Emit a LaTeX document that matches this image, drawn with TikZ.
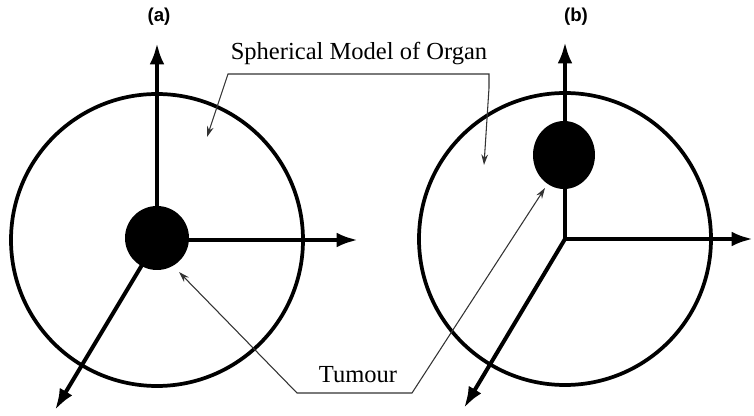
\documentclass[tikz,border=0pt]{standalone}
\usepackage{fontspec}
\setmainfont{Liberation Serif}
\newfontfamily\panelfont{Liberation Sans}
\usetikzlibrary{arrows.meta, shapes.geometric}

\begin{document}
\begin{tikzpicture}[
  x=0.75pt, y=-0.75pt,
  organ/.style={draw, circle, line width=2.8pt, minimum size=219pt, inner sep=0pt},
  tumour/.style={fill=black, inner sep=0pt},
  axisarr/.style={-{Latex[length=16pt, width=11pt]}, line width=3pt},
  pointer/.style={{Stealth[length=8pt, width=5pt]}-{Stealth[length=8pt, width=5pt]},
                  line width=0.8pt, black!80},
  lbl/.style={font=\fontsize{18.4}{20}\selectfont, inner sep=0pt, anchor=base},
  panel/.style={font=\panelfont\bfseries\fontsize{14}{16}\selectfont},
]
  \useasboundingbox (0,0) rectangle (754,416);

  % (a): tumour at the centre
  \node[organ] (orgA) at (157,240) {};
  \coordinate (oA) at (157,240);
  \coordinate (xA) at (358,240);
  \coordinate (yA) at (157,43);
  \coordinate (zA) at (55,410);
  \draw[axisarr] (oA) -- (xA);
  \draw[axisarr] (oA) -- (yA);
  \draw[axisarr] (oA) -- (zA);
  \node[tumour, circle, minimum size=48pt] (tumA) at (157,238) {};

  % (b): tumour off centre
  \node[organ] (orgB) at (565,239) {};
  \coordinate (oB) at (565,239);
  \coordinate (xB) at (753,239);
  \coordinate (yB) at (565,42);
  \coordinate (zB) at (464,408);
  \draw[axisarr] (oB) -- (xB);
  \draw[axisarr] (oB) -- (yB);
  \draw[axisarr] (oB) -- (zB);
  \node[tumour, ellipse, minimum width=46.5pt, minimum height=51pt] (tumB) at (564,155) {};

  % captions
  \node[panel] (capA) at (159,17) {(a)};
  \node[panel] (capB) at (576,17) {(b)};

  % callouts
  \node[lbl] (organlbl) at (359,60) {Spherical Model of Organ};
  \coordinate (olA) at (228,74);
  \coordinate (olB) at (489,74);
  \coordinate (olBend) at (489,88);
  \coordinate (ptOA) at (207,137);
  \coordinate (ptOB) at (484,165);
  \draw[pointer] (ptOA) -- (olA) -- (olB) -- (olBend) -- (ptOB);

  \node[lbl] (tumlbl) at (358,383) {Tumour};
  \coordinate (tlA) at (297,393);
  \coordinate (tlB) at (412,393);
  \coordinate (ptTA) at (179,272);
  \coordinate (ptTB) at (545,188);
  \draw[pointer] (ptTA) -- (tlA) -- (tlB) -- (ptTB);
\end{tikzpicture}
\end{document}
